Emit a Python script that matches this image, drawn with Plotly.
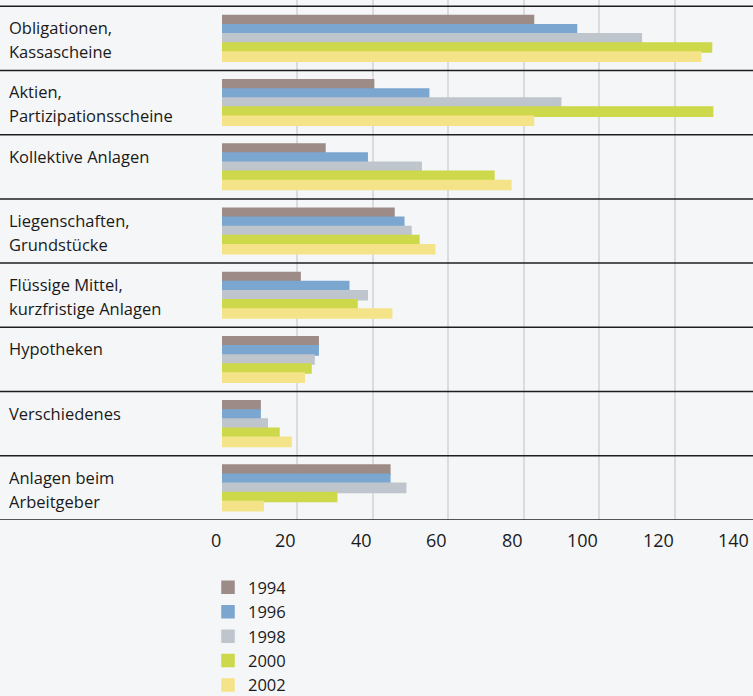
import plotly.graph_objects as go

categories = [
    "Obligationen,<br>Kassascheine",
    "Aktien,<br>Partizipationsscheine",
    "Kollektive Anlagen",
    "Liegenschaften,<br>Grundstücke",
    "Flüssige Mittel,<br>kurzfristige Anlagen",
    "Hypotheken",
    "Verschiedenes",
    "Anlagen beim<br>Arbeitgeber",
]
years = ["1994", "1996", "1998", "2000", "2002"]
v1994 = [82.6, 40.2, 27.3, 45.6, 20.7, 25.5, 10.1, 44.5]
v1996 = [94.0, 54.8, 38.5, 48.2, 33.6, 25.5, 10.1, 44.5]
v1998 = [111.2, 89.8, 52.8, 50.1, 38.5, 24.4, 12.0, 48.7]
v2000 = [129.8, 130.1, 72.1, 52.2, 35.8, 23.6, 15.1, 30.4]
v2002 = [126.9, 82.6, 76.6, 56.4, 45.0, 21.8, 18.3, 10.9]
series = [v1994, v1996, v1998, v2000, v2002]
tick_vals = [0, 20, 40, 60, 80, 100, 120, 140]
tick_text = ["0", "20", "40", "60", "80", "100", "120", "140"]

colors = ["#9c8b87", "#7ba6cf", "#bec5cc", "#cdd84a", "#f4e388"]
FONT = "Open Sans"
W, H = 753, 696
L, R, T, B = 222, 3, 0, 176
PW = W - L - R
PH = H - T - B

fig = go.Figure()
ypos = list(range(len(categories)))
for name, vals, col in zip(years, series, colors):
    fig.add_trace(go.Bar(
        x=vals, y=ypos, orientation="h", name=name,
        marker=dict(color=col, line=dict(color=col, width=1.5)),
        hoverinfo="x+name",
    ))

# separator lines
for k in range(len(categories) + 1):
    fig.add_shape(type="line", xref="paper", yref="y",
                  x0=-L / PW, x1=1 + R / PW, y0=k - 0.5, y1=k - 0.5,
                  line=dict(color="#1e1e1e", width=1.5), layer="above")

# category labels
for i, lab in enumerate(categories):
    for j, line in enumerate(lab.split("<br>")):
        fig.add_annotation(
            text=line, xref="paper", yref="y",
            x=(7 - L) / PW, y=i - 0.5, xanchor="left", yanchor="middle",
            yshift=-(21.5 + 24 * j), showarrow=False,
            font=dict(family=FONT, size=16.5, color="#1a1a1a"),
        )

# tick labels (right aligned to ticks)
for tv, tt in zip(tick_vals, tick_text):
    fig.add_annotation(
        text=tt, xref="x", yref="paper", x=tv, y=0,
        xanchor="right", yanchor="middle", xshift=1, yshift=-20,
        showarrow=False, font=dict(family=FONT, size=18, color="#1a1a1a"),
    )

fig.update_layout(
    width=W, height=H,
    margin=dict(l=L, r=R, t=T, b=B, pad=0, autoexpand=False),
    paper_bgcolor="#f5f6f7",
    plot_bgcolor="rgba(0,0,0,0)",
    barmode="group", bargap=0.29, bargroupgap=0,
    showlegend=True,
    legend=dict(
        orientation="v", traceorder="normal",
        x=(208 - L) / PW, xanchor="left", y=(PH - 570) / PH, yanchor="top",
        font=dict(family=FONT, size=16.5, color="#1a1a1a"),
        bgcolor="rgba(0,0,0,0)", tracegroupgap=0,
    ),
    font=dict(family=FONT),
    xaxis=dict(range=[0, 140], tickvals=tick_vals, showticklabels=False,
               showgrid=True, gridcolor="#dcdcdc", gridwidth=2,
               zeroline=False, showline=False, ticks=""),
    yaxis=dict(range=[len(categories) - 0.5, -0.5 - 6.3 / (PH / len(categories))],
               showticklabels=False, showgrid=False, zeroline=False,
               showline=False, ticks=""),
)

fig.write_html(
    "out.html",
    config={"displayModeBar": False},
    post_script="document.body.style.margin='0px';document.body.style.overflow='hidden';",
)
